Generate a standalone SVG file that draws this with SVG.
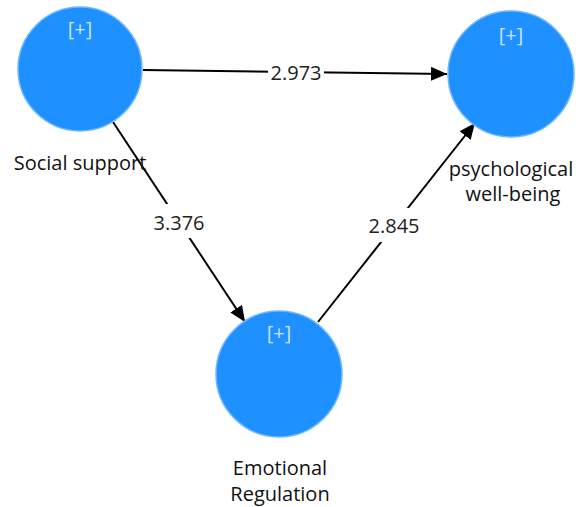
<svg xmlns="http://www.w3.org/2000/svg" width="576" height="507" viewBox="0 0 576 507">
<style>
.node{fill:#1e90ff;stroke:#6fb8ff;stroke-width:1.5}
.plus{font-family:"Open Sans","Noto Sans",sans-serif;font-size:20px;fill:#c8e4ff;text-anchor:middle}
.lbl{font-family:"Open Sans","Noto Sans",sans-serif;font-size:20px;fill:#111;text-anchor:middle}
.edge{stroke:#000;stroke-width:2;fill:none}
.elbl{font-family:"Open Sans","Noto Sans",sans-serif;font-size:20px;fill:#222;text-anchor:middle}
</style>
<defs>
<marker id="ah" viewBox="0 0 16 14" refX="16" refY="7" markerWidth="16" markerHeight="14" markerUnits="userSpaceOnUse" orient="auto">
<path d="M0,0 L16,7 L0,14 z" fill="#000"/>
</marker>
</defs>
<rect width="576" height="507" fill="#fff"/>
<g id="edges">
<line class="edge" x1="143" y1="70" x2="447" y2="74" marker-end="url(#ah)"/>
<rect x="268" y="60" width="56" height="26" fill="#fff"/>
<text class="elbl" x="296" y="80">2.973</text>
<line class="edge" x1="113" y1="122" x2="245" y2="322" marker-end="url(#ah)"/>
<rect x="152" y="204" width="52" height="34" fill="#fff"/>
<text class="elbl" x="179" y="230">3.376</text>
<line class="edge" x1="318" y1="322" x2="475" y2="123" marker-end="url(#ah)"/>
<rect x="366" y="208" width="56" height="34" fill="#fff"/>
<text class="elbl" x="394" y="233">2.845</text>
</g>
<g id="social">
<circle class="node" cx="80" cy="69" r="62"/>
<text class="plus" x="80" y="36">[+]</text>
<text class="lbl" x="80" y="170">Social support</text>
</g>
<g id="psych">
<circle class="node" cx="511" cy="74" r="63"/>
<text class="plus" x="511" y="42">[+]</text>
<text class="lbl" x="511" y="176">psychological</text>
<text class="lbl" x="513" y="201">well-being</text>
</g>
<g id="emo">
<circle class="node" cx="279" cy="374" r="63"/>
<text class="plus" x="279" y="340">[+]</text>
<text class="lbl" x="280" y="475">Emotional</text>
<text class="lbl" x="280" y="501">Regulation</text>
</g>
</svg>
